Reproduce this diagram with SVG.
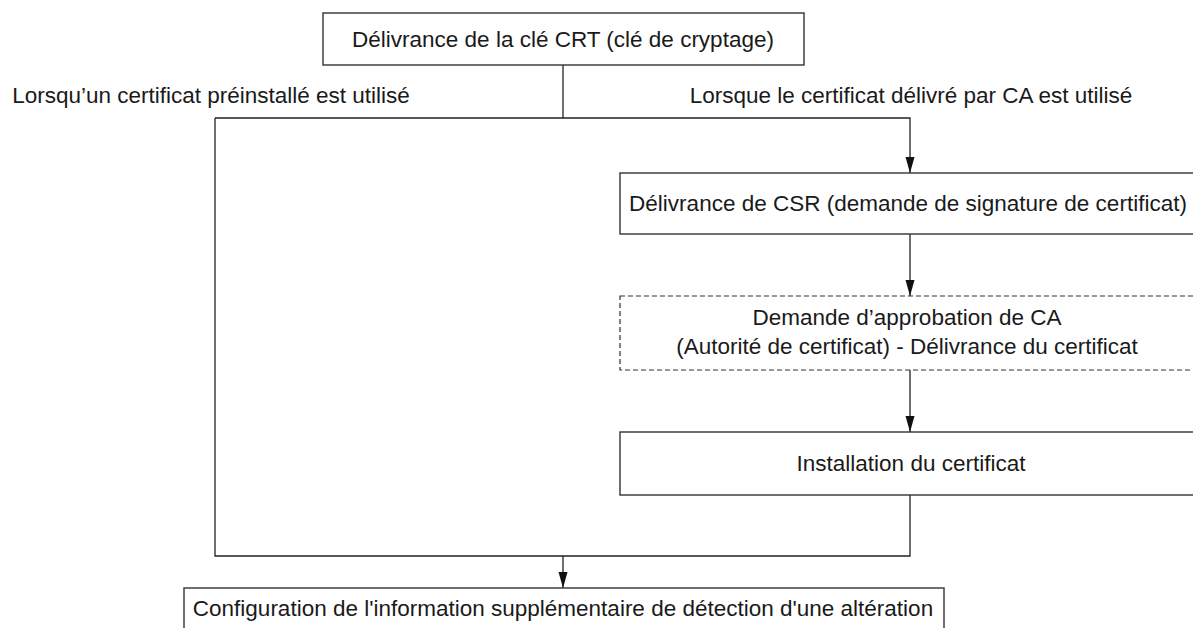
<svg xmlns="http://www.w3.org/2000/svg" width="1193" height="628" viewBox="0 0 1193 628">
<style>
.box{fill:#fff;stroke:#333;stroke-width:1.4}
.dash{fill:#fff;stroke:#333;stroke-width:1.2;stroke-dasharray:5 3}
.ln{fill:none;stroke:#222;stroke-width:1.3}
text{font-family:"Liberation Sans",Arial,sans-serif;font-size:22.5px;fill:#1a1a1a}
.c{text-anchor:middle}
</style>
<defs>
<marker id="arr" markerWidth="16" markerHeight="10" refX="16" refY="5" orient="auto" markerUnits="userSpaceOnUse" viewBox="0 0 16 10">
<path d="M0,0.5 L16,5 L0,9.5 Z" fill="#111"/>
</marker>
</defs>
<g id="connectors">
<path class="ln" d="M563,65 V118"/>
<path class="ln" d="M215,118 H910 V173" marker-end="url(#arr)"/>
<path class="ln" d="M215,118 V556 H910 V495"/>
<path class="ln" d="M910,234 V296" marker-end="url(#arr)"/>
<path class="ln" d="M910,370 V432" marker-end="url(#arr)"/>
<path class="ln" d="M563,556 V588" marker-end="url(#arr)"/>
</g>
<g id="label-left"><text class="c" x="211" y="103">Lorsqu’un certificat préinstallé est utilisé</text></g>
<g id="label-right"><text class="c" x="911" y="103">Lorsque le certificat délivré par CA est utilisé</text></g>
<g id="n-crt">
<rect class="box" x="323" y="13" width="481" height="52"/>
<text class="c" x="563" y="47">Délivrance de la clé CRT (clé de cryptage)</text>
</g>
<g id="n-csr">
<rect class="box" x="620" y="173" width="580" height="61"/>
<text class="c" x="908" y="211">Délivrance de CSR (demande de signature de certificat)</text>
</g>
<g id="n-ca">
<rect class="dash" x="620" y="296" width="580" height="74"/>
<text class="c" x="907" y="325">Demande d’approbation de CA</text>
<text class="c" x="907" y="354">(Autorité de certificat) - Délivrance du certificat</text>
</g>
<g id="n-install">
<rect class="box" x="620" y="432" width="580" height="63"/>
<text class="c" x="911" y="471">Installation du certificat</text>
</g>
<g id="n-config">
<rect class="box" x="184" y="588" width="760" height="60"/>
<text class="c" x="563" y="616">Configuration de l'information supplémentaire de détection d'une altération</text>
</g>
</svg>
